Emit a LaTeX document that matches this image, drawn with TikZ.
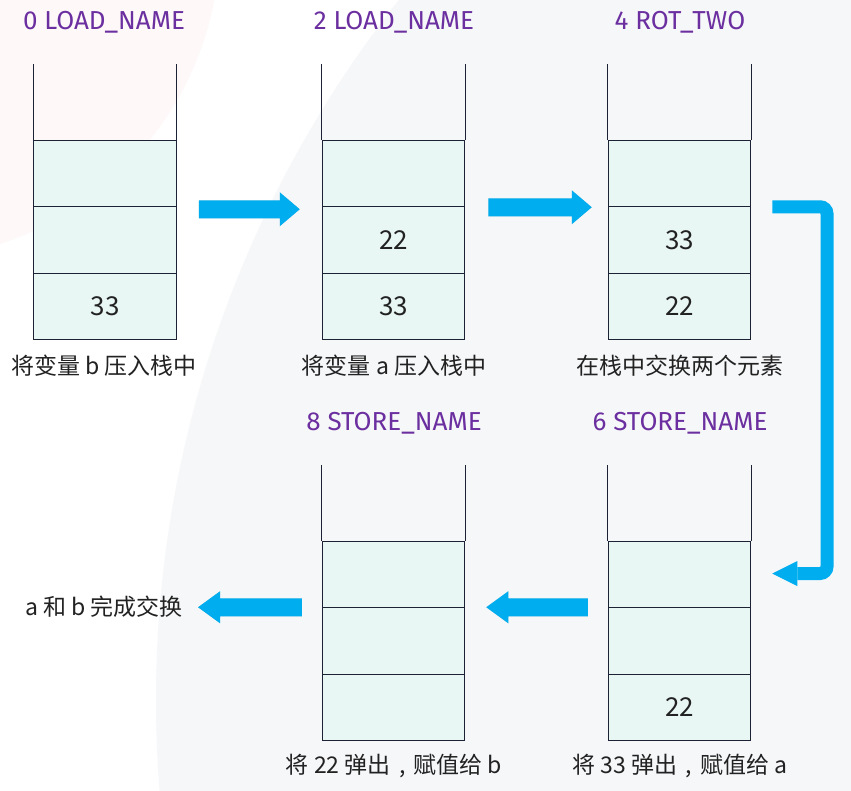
\documentclass[tikz,border=0pt]{standalone}
\usepackage{fontspec}
\setmainfont{Noto Sans CJK SC}
\newfontfamily\titlefont{Fira Sans}
\usetikzlibrary{calc}
\definecolor{titlec}{HTML}{6B2FA0}
\definecolor{arrowc}{HTML}{00AEEF}
\definecolor{linec}{HTML}{1C2233}
\definecolor{cellc}{HTML}{E8F7F4}
\definecolor{txtc}{HTML}{222222}
\definecolor{pinkbg}{HTML}{FEF8F9}
\definecolor{graybg}{HTML}{F6F7F9}
\tikzset{
  cell/.style={rectangle, draw=linec, fill=cellc, line width=1pt, minimum width=142.5pt, minimum height=66.5pt, inner sep=0pt, text=txtc, font=\fontsize{26}{30}\selectfont},
  sideline/.style={draw=linec, line width=1pt},
  optitle/.style={text=titlec, font=\titlefont\fontsize{26}{30}\selectfont, inner sep=0pt},
  caption/.style={text=txtc, font=\fontsize{23}{27}\selectfont, inner sep=0pt},
  blockarrow/.style={fill=arrowc},
  arrowshadow/.style={fill=black, opacity=0.10},
}
\newcommand\cm{\makebox[1em][c]{,}}
\newcommand\stk[6]{%
  \node[cell] (#1-1) at (#2, #3+109.5) {#4};
  \node[cell] (#1-2) at (#2, #3+176) {#5};
  \node[cell] (#1-3) at (#2, #3+242.5) {#6};
  \draw[sideline] (#1-1.north west) -- ++(0,-76);
  \draw[sideline] (#1-1.north east) -- ++(0,-76);
}
% right-pointing block arrow from #1 to tip #2
\newcommand\rblock[3]{%
  \fill[#3] let \p1=(#1), \p2=(#2) in
    (\x1,\y1+9pt) -- (\x2-20pt,\y1+9pt) -- (\x2-20pt,\y1+17pt) -- (\x2,\y1) --
    (\x2-20pt,\y1-17pt) -- (\x2-20pt,\y1-9pt) -- (\x1,\y1-9pt) -- cycle;
}
\newcommand\lblock[3]{%
  \fill[#3] let \p1=(#1), \p2=(#2) in
    (\x1,\y1+9pt) -- (\x2+22pt,\y1+9pt) -- (\x2+22pt,\y1+16pt) -- (\x2,\y1) --
    (\x2+22pt,\y1-16pt) -- (\x2+22pt,\y1-9pt) -- (\x1,\y1-9pt) -- cycle;
}
\begin{document}
\begin{tikzpicture}[x=1pt, y=-1pt]
\useasboundingbox (0,0) rectangle (851,790);
% background
\begin{scope}
  \clip (0,0) rectangle (851,790);
  \fill[white] (0,0) rectangle (851,790);
  \fill[pinkbg] (-100,-60) circle (320pt);
  \fill[graybg] (1286,700) circle (1130pt);
\end{scope}
% stacks
\stk{s1}{105}{64}{}{}{33}
\stk{s2}{393.5}{64}{}{22}{33}
\stk{s3}{679.5}{64}{}{33}{22}
\stk{s4}{679.5}{465}{}{}{22}
\stk{s5}{393.5}{465}{}{}{}
% titles
\node[optitle] (t1) at (104,22) {0 LOAD\_NAME};
\node[optitle] (t2) at (394,22) {2 LOAD\_NAME};
\node[optitle] (t3) at (680,22) {4 ROT\_TWO};
\node[optitle] (t4) at (680,423) {6 STORE\_NAME};
\node[optitle] (t5) at (394,423) {8 STORE\_NAME};
% captions
\node[caption] (c1) at (104,366) {将变量 b 压入栈中};
\node[caption] (c2) at (394,366) {将变量 a 压入栈中};
\node[caption] (c3) at (680,366) {在栈中交换两个元素};
\node[caption] (c4) at (680,766) {将 33 弹出\cm 赋值给 a};
\node[caption] (c5) at (394,766) {将 22 弹出\cm 赋值给 b};
\node[caption, anchor=west] (done) at (25,607) {a 和 b 完成交换};
% arrow end points
\coordinate (a1s) at ($(s1-1.south east)+(22,2)$);
\coordinate (a1e) at ($(s2-1.south west)+(-22,2)$);
\coordinate (a2s) at ($(s2-1.south east)+(23,0)$);
\coordinate (a2e) at ($(s3-1.south west)+(-16,0)$);
\coordinate (a3s) at ($(s3-1.south east)+(21,-0.5)$);
\coordinate (a3e) at ($(s4-1.east)+(21,-1)$);
\coordinate (a4s) at ($(s4-2.north west)+(-20,0)$);
\coordinate (a4e) at ($(s5-2.north east)+(21,0)$);
\coordinate (a5s) at ($(s5-2.north west)+(-20,0)$);
\coordinate (a5e) at ($(done.east)+(15,1)$);
% shadows
\begin{scope}[shift={(2,2)}]
  \rblock{a1s}{a1e}{arrowshadow}
  \rblock{a2s}{a2e}{arrowshadow}
  \lblock{a4s}{a4e}{arrowshadow}
  \lblock{a5s}{a5e}{arrowshadow}
\end{scope}
% block arrows
\rblock{a1s}{a1e}{blockarrow}
\rblock{a2s}{a2e}{blockarrow}
\lblock{a4s}{a4e}{blockarrow}
\lblock{a5s}{a5e}{blockarrow}
% elbow arrow
\draw[arrowc, line width=13pt, rounded corners=7pt]
  (a3s) -- ($(a3s -| 827,0)$) -- ($(a3e -| 827,0)$) -- ($(a3e)+(25,0)$);
\fill[arrowc] ($(a3e)+(25,-12.5)$) -- (a3e) -- ($(a3e)+(25,12.5)$) -- cycle;
\end{tikzpicture}
\end{document}
